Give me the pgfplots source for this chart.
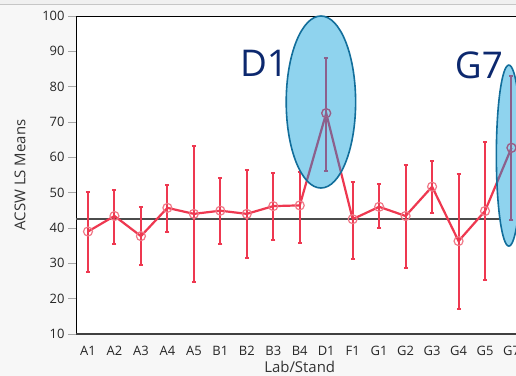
\documentclass[border=0pt]{standalone}
\usepackage{pgfplots}
\pgfplotsset{compat=1.18}
\usepackage{pgfplotstable}
\usepackage{fontspec}
\setmainfont{Open Sans}
\definecolor{serred}{RGB}{238,56,80}
\definecolor{mkpink}{RGB}{240,120,135}
\definecolor{ellfill}{RGB}{143,211,238}
\definecolor{elledge}{RGB}{18,110,155}
\definecolor{mauve}{RGB}{140,96,140}
\definecolor{navy}{RGB}{12,40,110}
\definecolor{bggray}{RGB}{247,247,247}

\pgfplotstableread{
x y lo hi
0 39.0 27.6 50.1
1 43.4 35.6 50.7
2 37.7 29.6 45.9
3 45.7 39.0 52.2
4 44.0 24.7 63.2
5 44.9 35.6 54.1
6 44.0 31.4 56.4
7 46.2 36.6 55.5
8 46.4 35.7 55.8
9 72.5 56.2 88.0
10 42.5 31.1 53.1
11 46.0 40.1 52.4
12 43.4 28.8 57.8
13 51.7 44.2 59.0
14 36.3 17.0 55.2
15 44.8 25.3 64.4
16 62.7 42.3 82.9
}\datatable

\pgfplotsset{
  errstyle/.style={error bars/.cd, y dir=both, y explicit,
    error bar style={line width=2bp, #1},
    error mark options={rotate=90, mark size=2bp, line width=2bp, #1}},
}

\begin{document}
\begin{tikzpicture}
\useasboundingbox (-76bp,-42bp) rectangle (440bp,334bp);
\clip (-76bp,-42bp) rectangle (440bp,334bp);
\fill[bggray] (-76bp,-42bp) rectangle (440bp,334bp);
\fill[gray!12] (-76bp,330bp) rectangle (440bp,334bp);
\draw[gray!45, line width=0.8bp] (-76bp,330bp) -- (440bp,330bp);
\begin{axis}[
  scale only axis, width=447.4bp, height=318bp,
  xmin=-0.453, xmax=16.45, ymin=10, ymax=100,
  axis background/.style={fill=white},
  axis line style={black, line width=1bp},
  xtick={0,...,16},
  xticklabels={A1,A2,A3,A4,A5,B1,B2,B3,B4,D1,F1,G1,G2,G3,G4,G5,G7},
  ytick={10,20,...,100},
  xtick style={draw=none},
  ytick style={draw=gray!70, line width=0.8bp},
  tick align=outside, major tick length=8bp,
  ytick pos=left, xtick pos=bottom,
  /pgf/number format/assume math mode=true,
  ticklabel style={font=\fontsize{13}{15}\selectfont, text=black!85},
  xticklabel style={yshift=-1bp},
  xlabel={Lab/Stand}, ylabel={ACSW LS Means},
  label style={font=\fontsize{15}{17}\selectfont, text=black!80},
  xlabel style={at={(axis description cs:0.5,-0.1038)}, anchor=center},
  ylabel style={at={(axis description cs:-0.1252,0.5)}, anchor=center, rotate=0},
  clip=false,
]
\draw[black!70, line width=1.5bp] (axis cs:-0.453,42.5) -- (axis cs:16.45,42.5);
\addplot[serred, line width=2.2bp, mark=o, mark size=4.5bp,
  mark options={draw=mkpink, line width=1.2bp, fill=none}, errstyle=serred]
  table[x=x, y=y, y error plus expr=\thisrow{hi}-\thisrow{y}, y error minus expr=\thisrow{y}-\thisrow{lo}] {\datatable};
\draw[black!75, line width=2bp] (rel axis cs:0,0) -- (rel axis cs:1,0);
% ellipses
\fill[ellfill] (axis cs:8.8,75.66) ellipse [x radius=34.7bp, y radius=86bp];
\fill[ellfill] (axis cs:15.9,60.5) ellipse [x radius=12.5bp, y radius=90.5bp];
\begin{scope}
\clip (axis cs:8.8,75.66) ellipse [x radius=34.7bp, y radius=86bp]
      (axis cs:15.9,60.5) ellipse [x radius=12.5bp, y radius=90.5bp];
\addplot[mauve, line width=2.2bp, no marks, restrict x to domain=8:10]
  table[x=x, y=y] {\datatable};
\addplot[mauve, line width=2.2bp, no marks, restrict x to domain=15:16]
  table[x=x, y=y] {\datatable};
\end{scope}
\addplot[mauve, only marks, mark=o, mark size=4.5bp,
  mark options={draw=mauve, line width=1.2bp, fill=none},
  restrict x to domain=9:9, errstyle=mauve]
  table[x=x, y=y, y error plus expr=\thisrow{hi}-\thisrow{y}, y error minus expr=\thisrow{y}-\thisrow{lo}] {\datatable};
\addplot[mauve, only marks, mark=o, mark size=4.5bp,
  mark options={draw=mauve, line width=1.2bp, fill=none},
  restrict x to domain=16:16, errstyle=mauve]
  table[x=x, y=y, y error plus expr=\thisrow{hi}-\thisrow{y}, y error minus expr=\thisrow{y}-\thisrow{lo}] {\datatable};
\draw[elledge, line width=1.6bp] (axis cs:8.8,75.66) ellipse [x radius=34.7bp, y radius=86bp];
\draw[elledge, line width=1.6bp] (axis cs:15.9,60.5) ellipse [x radius=12.5bp, y radius=90.5bp];
\node[navy, font=\fontsize{37}{40}\selectfont, inner sep=0pt] at (axis cs:6.65,86.56) {D1};
\node[navy, font=\fontsize{37}{40}\selectfont, inner sep=0pt] at (axis cs:14.77,86.1) {G7};
\end{axis}
\end{tikzpicture}
\end{document}
